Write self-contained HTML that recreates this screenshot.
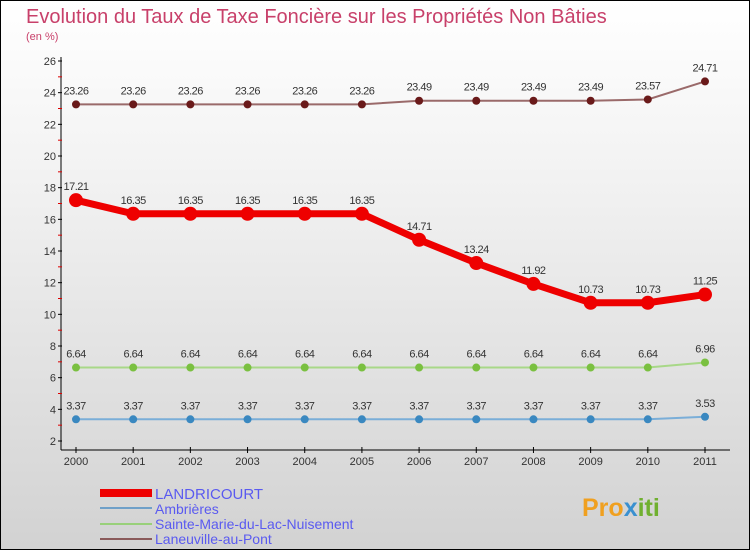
<!DOCTYPE html>
<html><head><meta charset="utf-8"><style>
body{margin:0}
#c{width:750px;height:550px;position:relative;box-sizing:border-box;border:1px solid #000;background:linear-gradient(#fff,#f3f3f3 30%,#d2d2d2);font-family:"Liberation Sans",sans-serif;overflow:hidden}
</style></head><body>
<div id="c">
<svg id="s" width="750" height="550" style="position:absolute;left:-1px;top:-1px">
<text x="26" y="23" font-size="20" fill="#c8406a">Evolution du Taux de Taxe Foncière sur les Propriétés Non Bâties</text>
<text x="26" y="40" font-size="11" fill="#c8406a">(en %)</text>
<g id="axes"></g><g id="series"></g>
<g>
<rect x="100" y="489" width="52" height="8" fill="#e00"/>
<text x="155" y="499" font-size="15" fill="#5a5af0">LANDRICOURT</text>
<rect x="100" y="507" width="52" height="2" fill="#6fa0c8"/>
<text x="155" y="514" font-size="14" fill="#5a5af0">Ambrières</text>
<rect x="100" y="523" width="52" height="2" fill="#99d07a"/>
<text x="155" y="529" font-size="14" fill="#5a5af0">Sainte-Marie-du-Lac-Nuisement</text>
<rect x="100" y="538" width="52" height="2" fill="#8a5a5a"/>
<text x="155" y="544" font-size="14" fill="#5a5af0">Laneuville-au-Pont</text>
</g>
<text x="582" y="516" font-size="25" font-weight="bold" fill="#f0a020">Pro<tspan fill="#3a90d0">x</tspan><tspan fill="#70b030">iti</tspan></text>
</svg>
</div>
<script>
const years=["2000","2001","2002","2003","2004","2005","2006","2007","2008","2009","2010","2011"];
const yTicks=[2,4,6,8,10,12,14,16,18,20,22,24,26];
const landricourt=[17.21,16.35,16.35,16.35,16.35,16.35,14.71,13.24,11.92,10.73,10.73,11.25];
const ambrieres=[3.37,3.37,3.37,3.37,3.37,3.37,3.37,3.37,3.37,3.37,3.37,3.53];
const sainteMarie=[6.64,6.64,6.64,6.64,6.64,6.64,6.64,6.64,6.64,6.64,6.64,6.96];
const laneuville=[23.26,23.26,23.26,23.26,23.26,23.26,23.49,23.49,23.49,23.49,23.57,24.71];
const NS="http://www.w3.org/2000/svg";
const X=i=>76+i*(629/(years.length-1));
const Y=v=>441-(v-2)*(380/24);
function mk(t,a,p){const e=document.createElementNS(NS,t);for(const k in a)e.setAttribute(k,a[k]);p.appendChild(e);return e;}
const ax=document.getElementById('axes');
let l=mk('line',{x1:61,y1:57,x2:61,y2:450,stroke:'#000'},ax);


l=mk('line',{x1:61,y1:450,x2:730,y2:450,stroke:'#000'},ax);


yTicks.forEach((v,i)=>{
  mk('line',{x1:58,y1:Y(v),x2:62,y2:Y(v),stroke:'#000'},ax);
  if(i<yTicks.length-1) mk('line',{x1:58,y1:Y(v+1),x2:62,y2:Y(v+1),stroke:'#d00'},ax);
  const t=mk('text',{x:56,y:Y(v)+4,'font-size':11,fill:'#333','text-anchor':'end'},ax);
  t.textContent=v;
  
  
});
years.forEach((y,i)=>{
  mk('line',{x1:X(i),y1:447,x2:X(i),y2:453,stroke:'#000'},ax);
  const t=mk('text',{x:X(i),y:465,'font-size':11,fill:'#333','text-anchor':'middle'},ax);
  t.textContent=y;
  
  
});
const sg=document.getElementById('series');
function series(d,name,col,w,r,dot){
  const g=mk('g',{},sg);
  
  
  mk('polyline',{points:d.map((v,i)=>X(i)+','+Y(v)).join(' '),fill:'none',stroke:col,'stroke-width':w},g);
  d.forEach((v,i)=>{
    const c=mk('circle',{cx:X(i),cy:Y(v),r:r,fill:dot},g);
    
    
    const t=mk('text',{x:X(i),y:Y(v)-10,'font-size':11,fill:'#333','text-anchor':'middle','letter-spacing':'-0.5'},g);
    t.textContent=v.toFixed(2).replace(/0$/,'').replace(/\.$/,'');
    t.textContent=String(v);
    
    
  });
}
series(laneuville,'laneuville','#9a6a6a',2,4,'#6a1a1a');
series(sainteMarie,'sainte-marie','#a8d888',2,4,'#7ac040');
series(ambrieres,'ambrieres','#7aaed8',2,4,'#3a88c0');
series(landricourt,'landricourt','#ee0000',7,7,'#ee0000');
</script>
</body></html>
